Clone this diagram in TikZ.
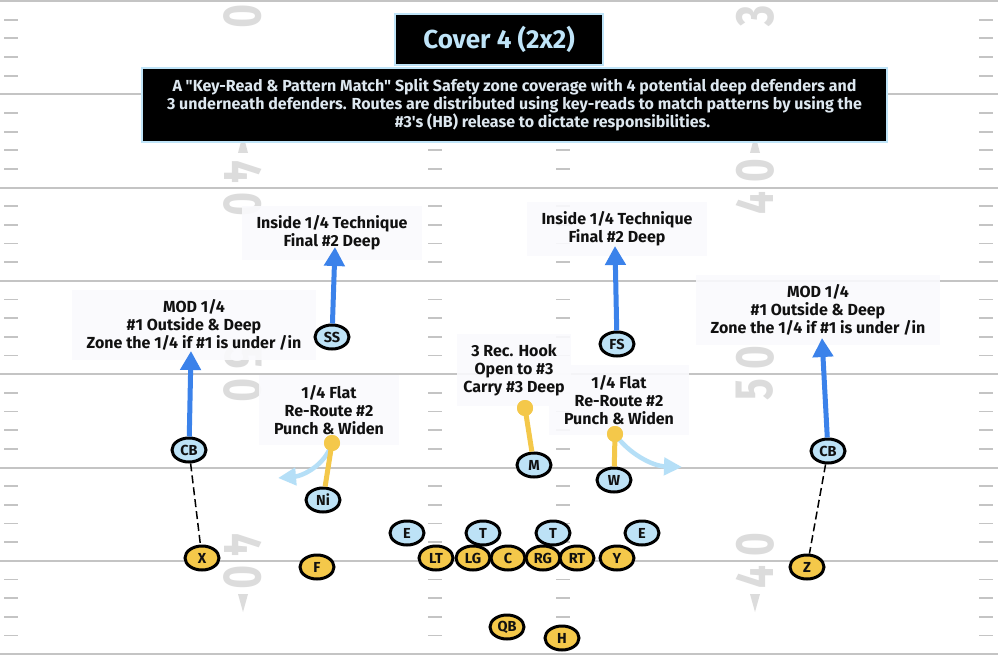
\documentclass[tikz,border=0pt]{standalone}
\usepackage{fontspec}
\setmainfont{Fira Sans}[Ligatures=TeXOff]
\usetikzlibrary{shapes.geometric, arrows.meta}
\definecolor{defc}{HTML}{BDE2F6}
\definecolor{offc}{HTML}{F4C84A}
\definecolor{blu}{HTML}{3B82EA}
\definecolor{lblu}{HTML}{B5DFF7}
\definecolor{fieldln}{HTML}{C4C4C4}
\definecolor{numc}{HTML}{DCDCDC}
\definecolor{titc}{HTML}{BFE4F8}
\definecolor{descc}{HTML}{DDE7EF}
\definecolor{lblbg}{HTML}{FAFAFD}
\definecolor{inkc}{HTML}{111111}
\newcommand\yarddigit[4]{\node[numstyle, rotate=#3] at (#1,#2) {\scalebox{0.75}[1]{#4}};}
\begin{document}
\begin{tikzpicture}[x=1pt,y=-1pt,
  fieldline/.style={draw=fieldln, line width=2pt},
  hashmk/.style={draw=fieldln, line width=1.8pt},
  numstyle/.style={text=numc, inner sep=0pt, font=\fontsize{54}{54}\selectfont\bfseries},
  numtri/.style={fill=numc},
  titlebox/.style={fill=black, draw=titc, line width=1.5pt, text=titc, minimum width=208pt, minimum height=51pt, font=\fontsize{26}{26}\selectfont\bfseries},
  descbox/.style={fill=black, draw=titc, line width=1.5pt, text=descc, minimum width=745pt, minimum height=74pt, align=center, font=\fontsize{16}{18}\selectfont\bfseries},
  lbl/.style={align=center, fill=lblbg, fill opacity=0.9, text opacity=1, text=inkc, inner xsep=15pt, inner ysep=10pt, font=\fontsize{16}{18}\selectfont\bfseries},
  player/.style={ellipse, draw=black, line width=3pt, minimum width=34pt, minimum height=24pt, inner sep=0pt, text=inkc, font=\fontsize{14.5}{14.5}\selectfont\bfseries},
  dplayer/.style={player, fill=defc},
  oplayer/.style={player, fill=offc},
  barrow/.style={draw=blu, line width=5pt, -{Triangle[length=19pt,width=20pt]}},
  ylink/.style={draw=offc, line width=5pt},
  ydot/.style={circle, fill=offc, minimum size=16pt, inner sep=0pt},
  lbarrow/.style={draw=lblu, line width=4.5pt, -{Triangle[length=18pt,width=17pt]}},
  dlink/.style={draw=black, line width=1.5pt, dash pattern=on 8pt off 4pt}
]
\useasboundingbox (0,0) rectangle (998,671);
\clip (0,0) rectangle (998,671);
\fill[white] (0,0) rectangle (998,671);

% field
\foreach \i in {0,...,7} {
  \draw[fieldline] (0,{1+93.3*\i}) -- (998,{1+93.3*\i});
}
\foreach \i in {0,...,6} {
  \foreach \k in {1,...,4} {
    \pgfmathsetmacro\yy{1+93.3*\i+18.66*\k}
    \draw[hashmk] (4,\yy) -- (18,\yy);
    \draw[hashmk] (428,\yy) -- (442,\yy);
    \draw[hashmk] (556,\yy) -- (570,\yy);
    \draw[hashmk] (979,\yy) -- (993,\yy);
  }
}
% yard numbers
\yarddigit{243}{16}{-90}{0}
\yarddigit{243}{172}{-90}{4}
\yarddigit{243}{204}{-90}{0}
\yarddigit{243}{358}{-90}{5}
\yarddigit{243}{390}{-90}{0}
\yarddigit{243}{545}{-90}{4}
\yarddigit{243}{577}{-90}{0}
\yarddigit{755}{16}{90}{3}
\yarddigit{755}{171}{90}{0}
\yarddigit{755}{203}{90}{4}
\yarddigit{755}{358}{90}{0}
\yarddigit{755}{390}{90}{5}
\yarddigit{755}{545}{90}{0}
\yarddigit{755}{577}{90}{4}
\fill[numtri] (238,153) -- (248,153) -- (243,134) -- cycle;
\fill[numtri] (750,153) -- (760,153) -- (755,134) -- cycle;
\fill[numtri] (238,594) -- (248,594) -- (243,612) -- cycle;
\fill[numtri] (750,594) -- (760,594) -- (755,612) -- cycle;

% title and description
\node[titlebox] (title) at (499,39.5) {Cover 4 (2x2)};
\node[descbox] (desc) at (514.5,105) {A "Key-Read \& Pattern Match" Split Safety zone coverage with 4 potential deep defenders and\\3 underneath defenders. Routes are distributed using key-reads to match patterns by using the\\\hspace*{76pt}\#3's (HB) release to dictate responsibilities.};

% labels
\node[lbl] (lss) at (332,233) {Inside 1/4 Technique\\Final \#2 Deep};
\node[lbl] (lfs) at (617,229) {Inside 1/4 Technique\\Final \#2 Deep};
\node[lbl] (lcbl) at (194,325) {MOD 1/4\\\#1 Outside \& Deep\\Zone the 1/4 if \#1 is under /in};
\node[lbl] (lcbr) at (818,310) {MOD 1/4\\\#1 Outside \& Deep\\Zone the 1/4 if \#1 is under /in};
\node[lbl] (lni) at (329,410) {1/4 Flat\\Re-Route \#2\\Punch \& Widen};
\node[lbl] (lw) at (619,400) {1/4 Flat\\Re-Route \#2\\Punch \& Widen};
\node[lbl, inner xsep=6pt] (lm) at (514,370) {3 Rec. Hook\\Open to \#3\\Carry \#3 Deep};

% players
\node[dplayer] (ss) at (332,337) {SS};
\node[dplayer] (fs) at (617,344) {FS};
\node[dplayer] (cbl) at (189,450) {CB};
\node[dplayer] (cbr) at (828,451) {CB};
\node[dplayer] (ni) at (323,500) {Ni};
\node[dplayer] (m) at (534,465) {M};
\node[dplayer] (w) at (614,480) {W};
\node[dplayer] (el) at (407,533) {E};
\node[dplayer] (tl) at (483,533) {T};
\node[dplayer] (tr) at (553,533) {T};
\node[dplayer] (er) at (642,533) {E};
\node[oplayer] (lt) at (436,558) {LT};
\node[oplayer] (lg) at (473,558) {LG};
\node[oplayer] (c) at (508,558) {C};
\node[oplayer] (rg) at (543,558) {RG};
\node[oplayer] (rt) at (577,558) {RT};
\node[oplayer] (y) at (617,558) {Y};
\node[oplayer] (x) at (202,558) {X};
\node[oplayer] (f) at (317,567) {F};
\node[oplayer] (z) at (807,567) {Z};
\node[oplayer] (qb) at (507,627) {QB};
\node[oplayer] (h) at (562,638) {H};

% route ends
\coordinate (ssT) at (335,247);
\coordinate (fsT) at (615,246);
\coordinate (cblT) at (191,351);
\coordinate (cbrT) at (822,338);
\coordinate (niT) at (278,478);
\coordinate (wT) at (682,467);
\node[ydot] (nid) at (332,443) {};
\node[ydot] (md) at (525,408) {};
\node[ydot] (wd) at (615,434) {};

% connectors
\draw[barrow] (ss) -- (ssT);
\draw[barrow] (fs) -- (fsT);
\draw[barrow] (cbl) -- (cblT);
\draw[barrow] (cbr) -- (cbrT);
\draw[dlink] (cbl) -- (x);
\draw[dlink] (cbr) -- (z);
\draw[lbarrow] (nid.center) .. controls (325,466) and (302,476) .. (niT);
\draw[lbarrow] (wd.center) .. controls (628,453) and (652,466) .. (wT);
\draw[ylink] (ni) -- (nid.center);
\draw[ylink] (m) -- (md.center);
\draw[ylink] (w) -- (wd.center);
\node[ydot] at (nid) {};
\node[ydot] at (md) {};
\node[ydot] at (wd) {};
\end{tikzpicture}
\end{document}
